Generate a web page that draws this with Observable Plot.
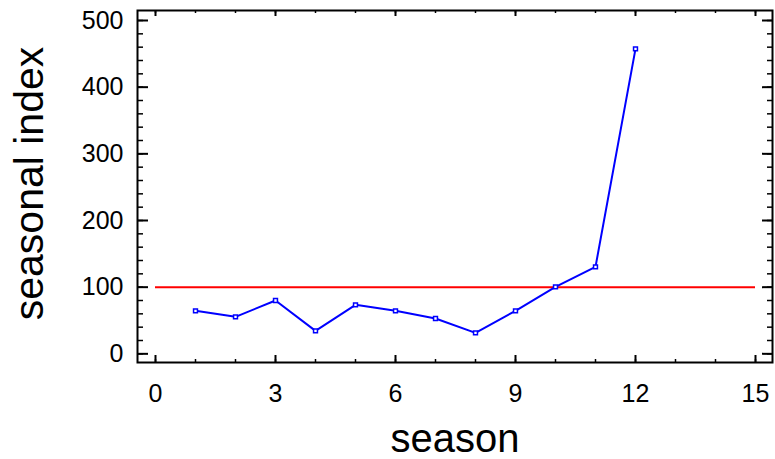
<!DOCTYPE html>
<html>
<head>
<meta charset="utf-8">
<script src="https://cdn.jsdelivr.net/npm/d3@7"></script>
<script src="https://cdn.jsdelivr.net/npm/@observablehq/plot@0.6"></script>
<style>
  html, body { margin: 0; padding: 0; background: #fff; }
  #chart svg { display: block; }
</style>
</head>
<body>
<div id="chart"></div>
<script>
// Data
const seasons = [1, 2, 3, 4, 5, 6, 7, 8, 9, 10, 11, 12];
const seasonalIndex = [64.5, 55.5, 80, 34.5, 73.5, 64.5, 53, 31.5, 64.5, 100.5, 130.5, 457.5];
const referenceLevel = 100;
const referenceSpan = [0, 15];

// Ticks
const xTickLabels = [0, 3, 6, 9, 12, 15];
const yTickLabels = [0, 100, 200, 300, 400, 500];
const xMinorTicks = d3.range(0, 16, 1);
const yMinorTicks = d3.range(0, 501, 20);

const xTitle = "season";
const yTitle = "seasonal index";

const W = 775, H = 459;
const mL = 137, mR = 3, mT = 10, mB = 97;
const fw = W - mL - mR, fh = H - mT - mB;
const font = "'Liberation Sans', Arial, Helvetica, sans-serif";

const data = seasons.map((s, i) => ({season: s, value: seasonalIndex[i]}));

const chart = Plot.plot({
  width: W,
  height: H,
  marginLeft: mL,
  marginRight: mR,
  marginTop: mT,
  marginBottom: mB,
  style: {fontFamily: font, background: "white", color: "black"},
  x: {domain: [-0.45, 15.425], axis: null},
  y: {domain: [-13, 515], axis: null},
  marks: [
    // minor ticks
    Plot.tickX(xMinorTicks, {x: d => d, insetTop: fh - 3, stroke: "black", strokeWidth: 1.5}),
    Plot.tickX(xMinorTicks, {x: d => d, insetBottom: fh - 3, stroke: "black", strokeWidth: 1.5}),
    Plot.tickY(yMinorTicks, {y: d => d, insetRight: fw - 6, stroke: "black", strokeWidth: 1.5}),
    Plot.tickY(yMinorTicks, {y: d => d, insetLeft: fw - 5, stroke: "black", strokeWidth: 1.5}),
    // major ticks
    Plot.tickX(xTickLabels, {x: d => d, insetTop: fh - 7, stroke: "black", strokeWidth: 2}),
    Plot.tickX(xTickLabels, {x: d => d, insetBottom: fh - 6, stroke: "black", strokeWidth: 2}),
    Plot.tickY(yTickLabels, {y: d => d, insetRight: fw - 11, stroke: "black", strokeWidth: 2}),
    Plot.tickY(yTickLabels, {y: d => d, insetLeft: fw - 10, stroke: "black", strokeWidth: 2}),
    // tick labels
    Plot.text(xTickLabels, {x: d => d, frameAnchor: "bottom", dy: 31, text: d => String(d), fontSize: 25, fill: "black", textAnchor: "middle", lineAnchor: "middle"}),
    Plot.text(yTickLabels, {y: d => d, frameAnchor: "left", dx: -14, text: d => String(d), fontSize: 25, fill: "black", textAnchor: "end", lineAnchor: "middle"}),
    // axis titles
    Plot.text([xTitle], {frameAnchor: "bottom", dy: 77, text: d => d, fontSize: 40, fill: "black", textAnchor: "middle", lineAnchor: "middle"}),
    Plot.text([yTitle], {frameAnchor: "left", dx: -108, dy: -3, rotate: -90, text: d => d, fontSize: 41, fill: "black", textAnchor: "middle", lineAnchor: "middle"}),
    // reference line
    Plot.ruleY([referenceLevel], {x1: referenceSpan[0], x2: referenceSpan[1], stroke: "#ff0000", strokeWidth: 2}),
    // series
    Plot.line(data, {x: "season", y: "value", stroke: "#0000ff", strokeWidth: 2}),
    Plot.dot(data, {x: "season", y: "value", symbol: "square", r: 2.2, stroke: "#0000ff", strokeWidth: 1.5, fill: "white"}),
    Plot.frame({stroke: "black", strokeWidth: 2})
  ]
});

document.getElementById("chart").append(chart);
</script>
</body>
</html>
